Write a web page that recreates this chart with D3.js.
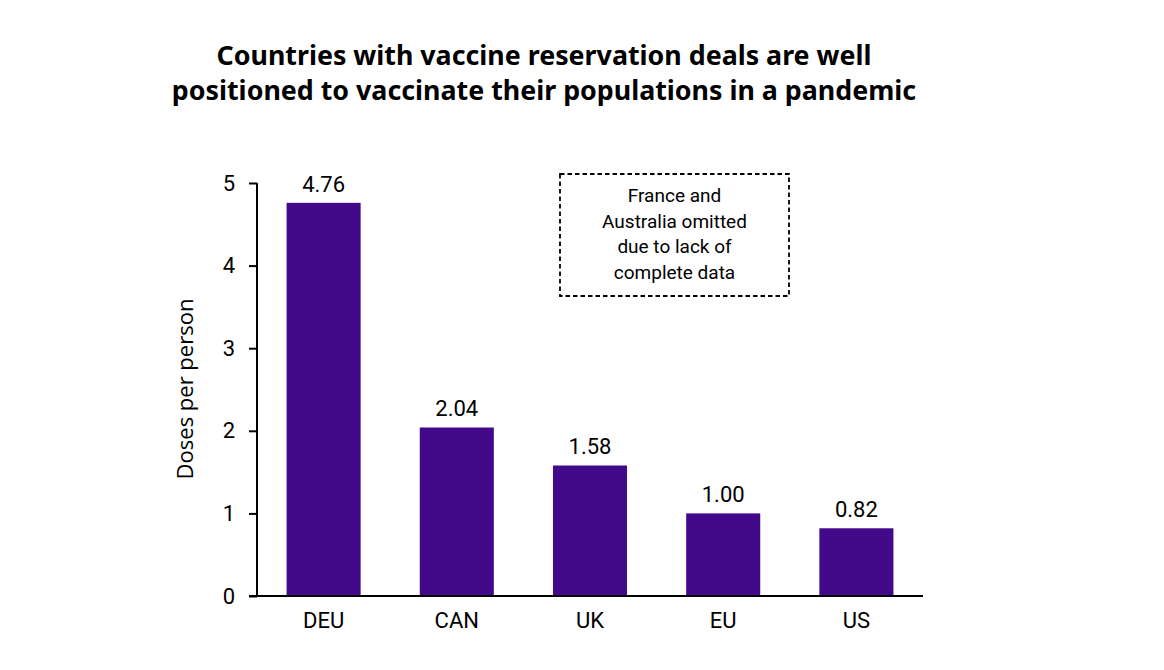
<!DOCTYPE html>
<html>
<head>
<meta charset="utf-8">
<script src="https://cdn.jsdelivr.net/npm/d3@7"></script>
<style>
  body { margin: 0; background: #fff; }
  svg { display: block; }
</style>
</head>
<body>
<svg id="chart" width="1164" height="670"></svg>
<script>
// data
const countries = ["DEU", "CAN", "UK", "EU", "US"];
const doses = [4.76, 2.04, 1.58, 1.00, 0.82];
const yTicks = [0, 1, 2, 3, 4, 5];
const titleLines = [
  "Countries with vaccine reservation deals are well",
  "positioned to vaccinate their populations in a pandemic"
];
const noteLines = ["France and", "Australia omitted", "due to lack of", "complete data"];

const svg = d3.select("#chart");
const font = "Roboto, 'Noto Sans', sans-serif";
const margin = { top: 183, left: 257, right: 241, bottom: 74 };
const width = +svg.attr("width") - margin.left - margin.right;
const height = +svg.attr("height") - margin.top - margin.bottom;

const g = svg.append("g")
  .attr("transform", `translate(${margin.left},${margin.top})`);

// Title
svg.append("text")
  .attr("text-anchor", "middle")
  .style("font", `bold 26.8px 'Noto Sans', sans-serif`)
  .selectAll("tspan")
  .data(titleLines)
  .join("tspan")
  .attr("x", 544)
  .attr("y", (d, i) => 65 + i * 35)
  .text(d => d);

// Scales
const x = d3.scaleBand()
  .domain(countries)
  .range([0, width])
  .paddingInner(0.444)
  .paddingOuter(0.222);

const y = d3.scaleLinear()
  .domain([0, 5])
  .range([height, 0]);

// Bars
g.selectAll("rect.bar")
  .data(countries)
  .join("rect")
  .attr("class", "bar")
  .attr("x", d => x(d))
  .attr("y", (d, i) => y(doses[i]))
  .attr("width", x.bandwidth())
  .attr("height", (d, i) => y(0) - y(doses[i]))
  .attr("fill", "#43098b");

// Value labels
g.selectAll("text.value")
  .data(countries)
  .join("text")
  .attr("class", "value")
  .attr("x", d => x(d) + x.bandwidth() / 2)
  .attr("y", (d, i) => y(doses[i]) - 11)
  .attr("text-anchor", "middle")
  .style("font", `22px ${font}`)
  .text((d, i) => doses[i].toFixed(2));

// Y axis
const yAxis = g.append("g")
  .call(d3.axisLeft(y).tickValues(yTicks).tickSize(8).tickPadding(14).tickFormat(d3.format("d")));
yAxis.select(".domain").attr("stroke-width", 2).attr("d", `M0,${y(5)}H0V${y(0)}`);
yAxis.selectAll(".tick line").attr("stroke-width", 2);
yAxis.selectAll(".tick text").style("font", `22px ${font}`).attr("fill", "#000");

// X axis
const xAxis = g.append("g")
  .attr("transform", `translate(0,${height})`)
  .call(d3.axisBottom(x).tickSize(0).tickPadding(16));
xAxis.select(".domain").attr("stroke-width", 2).attr("d", `M-8,0H${width}`);
xAxis.selectAll(".tick text").style("font", `22px ${font}`).attr("fill", "#000");

// Y label
svg.append("text")
  .attr("transform", `translate(193,389) rotate(-90)`)
  .attr("text-anchor", "middle")
  .style("font", `22px 'Open Sans', sans-serif`)
  .text("Doses per person");

// Note box
svg.append("rect")
  .attr("x", 560)
  .attr("y", 174)
  .attr("width", 229)
  .attr("height", 122)
  .attr("fill", "none")
  .attr("stroke", "#000")
  .attr("stroke-width", 1.8)
  .attr("stroke-dasharray", "4.5,3");

svg.append("text")
  .attr("text-anchor", "middle")
  .style("font", `19px ${font}`)
  .selectAll("tspan")
  .data(noteLines)
  .join("tspan")
  .attr("x", 674.5)
  .attr("y", (d, i) => 202 + i * 25.5)
  .text(d => d);
</script>
</body>
</html>
